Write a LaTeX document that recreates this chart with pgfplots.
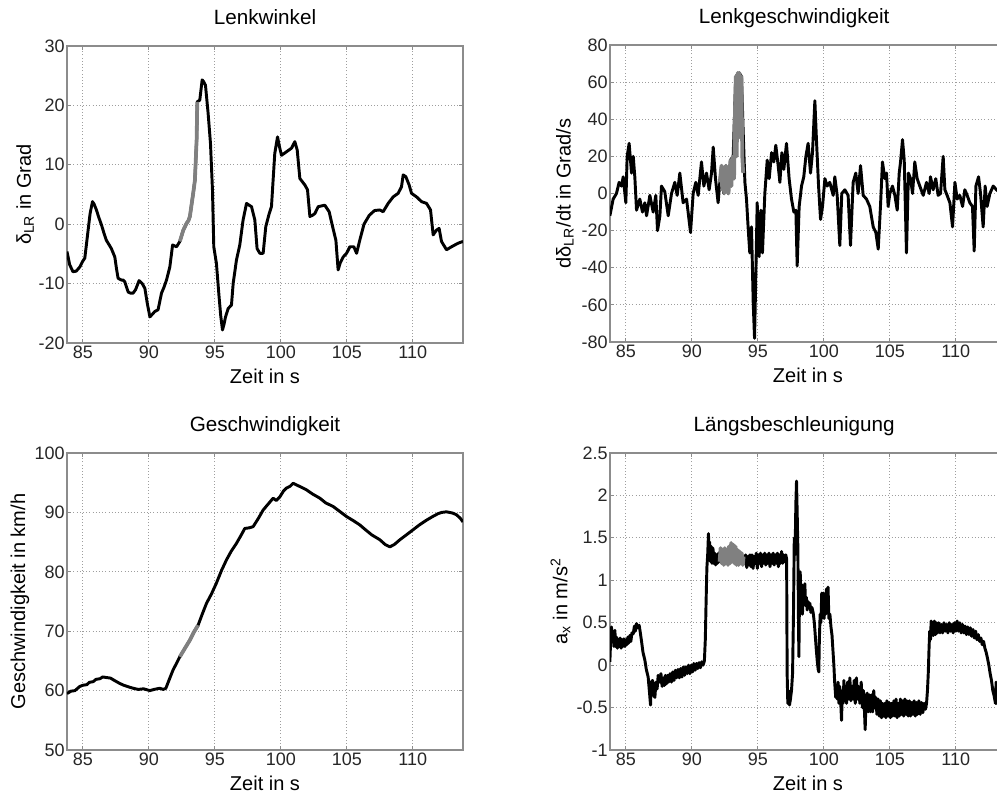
\documentclass[border=0pt]{standalone}
\usepackage{fontspec}
\setmainfont{Liberation Sans}
\usepackage{pgfplots}
\pgfplotsset{compat=1.18}
\definecolor{hl}{gray}{0.5}
\definecolor{framec}{gray}{0.55}
\definecolor{gridc}{gray}{0.62}
\pgfplotsset{
 blk/.style={black, line width=2.2pt, line join=round, no markers},
 gry/.style={hl, line width=2.8pt, line join=round, no markers},
 mystyle/.style={
  scale only axis, width=297pt, height=222.75pt, anchor=south west,
  xmin=83.8, xmax=113.8, xtick={85,90,...,110},
  grid=major, grid style={dotted, gridc, line width=0.6pt},
  axis line style={framec, line width=0.8pt},
  tick style={framec, line width=0.6pt}, tick align=inside, major tick length=3pt,
  /pgf/number format/assume math mode=true,
  tick label style={font=\fontsize{13.5}{15}\selectfont, text=black!85},
  yticklabel style={inner sep=1.5pt},
  xticklabel style={inner sep=2pt},
  label style={font=\fontsize{15}{17}\selectfont},
  every axis title shift=0pt,
  title style={font=\fontsize{15.5}{18}\selectfont, at={(axis description cs:0.5,1.074)}, anchor=base},
  xlabel style={at={(axis description cs:0.5,-0.111)}, anchor=center},
  xlabel={Zeit in s},
 }
}
\begin{document}
\begin{tikzpicture}
\useasboundingbox (0,0) rectangle (747.75pt,-599.25pt);
\clip (0,0) rectangle (747.75pt,-599.25pt);
% ---------------- Lenkwinkel
\begin{axis}[mystyle, at={(50.25pt,-257.25pt)},
  ymin=-20, ymax=30, ytick={-20,-10,...,30},
  title={Lenkwinkel},
  ylabel={δ\textsubscript{LR} in Grad},
  ylabel style={at={(axis description cs:-0.106,0.5)}, anchor=center}]
\addplot[blk] coordinates {
(83.8,-4.6) (84.0,-6.8) (84.25,-8.0) (84.5,-7.9) (84.77,-7.2) (85.0,-6.2) (85.15,-5.7) (85.4,-1.0) (85.55,1.8) (85.73,3.8) (85.85,3.4) (86.03,2.4) (86.2,1.2) (86.41,-0.1) (86.6,-1.5) (86.78,-2.7) (87.0,-3.5) (87.16,-4.1) (87.42,-5.5) (87.55,-7.5) (87.67,-9.1) (87.92,-9.4) (88.05,-9.4) (88.18,-9.7) (88.43,-11.4) (88.6,-11.6) (88.81,-11.6) (89.0,-11.0) (89.26,-9.5) (89.5,-10.0) (89.70,-10.8) (89.88,-13.3) (90.08,-15.6) (90.25,-15.2) (90.45,-14.7) (90.70,-14.4) (90.96,-11.6) (91.15,-10.6) (91.34,-9.4) (91.59,-7.2) (91.80,-3.5) (92.10,-3.8) (92.35,-2.9) (92.61,-1.0) (92.86,0.15) (93.0,0.6) (93.11,1.3) (93.25,3.5) (93.36,5.2) (93.49,7.4) (93.62,14.2) (93.67,20.6) (93.86,20.9) (94.04,24.3) (94.15,24.0) (94.29,23.4) (94.49,18.7) (94.67,13.6) (94.82,5.8) (94.92,-3.8) (95.12,-6.6) (95.32,-12.2) (95.45,-15.5) (95.58,-17.8) (95.7,-16.8) (95.81,-15.6) (96.01,-14.2) (96.26,-13.6) (96.39,-9.95) (96.64,-6.0) (96.89,-3.5) (97.14,0.7) (97.40,3.5) (97.6,3.2) (97.78,2.95) (98.03,0.7) (98.20,-4.1) (98.41,-4.9) (98.66,-4.9) (98.86,-0.4) (99.12,1.8) (99.29,2.95) (99.54,11.9) (99.75,14.7) (99.9,13.0) (100.05,11.6) (100.43,12.2) (100.81,12.8) (101.06,13.9) (101.24,12.5) (101.44,7.7) (101.82,6.6) (102.02,5.8) (102.20,1.3) (102.4,1.5) (102.58,1.8) (102.83,2.95) (103.33,3.2) (103.66,2.1) (103.92,-0.4) (104.17,-2.7) (104.34,-7.7) (104.5,-6.5) (104.73,-5.5) (104.98,-4.9) (105.23,-3.8) (105.53,-3.8) (105.74,-4.9) (105.98,-2.7) (106.3,0.0) (106.7,1.5) (107.1,2.3) (107.5,2.4) (107.75,2.1) (108.13,3.5) (108.51,4.6) (108.89,5.2) (109.14,6.3) (109.27,8.3) (109.47,8.0) (109.72,6.6) (109.90,5.2) (110.28,4.6) (110.66,3.8) (111.04,3.5) (111.34,2.4) (111.54,-1.8) (111.79,-1.0) (111.99,-0.7) (112.17,-2.9) (112.55,-4.3) (112.93,-3.8) (113.43,-3.2) (113.8,-2.9)
};
\addplot[gry] coordinates {
(92.35,-2.9) (92.61,-1.0) (92.86,0.15) (93.0,0.6) (93.11,1.3) (93.25,3.5) (93.36,5.2) (93.49,7.4) (93.62,14.2) (93.67,20.6)
};
\end{axis}
% ---------------- Lenkgeschwindigkeit
\begin{axis}[mystyle, at={(457.5pt,-256.5pt)},
  ymin=-80, ymax=80, ytick={-80,-60,...,80},
  title={Lenkgeschwindigkeit},
  title style={at={(axis description cs:0.465,1.074)}},
  ylabel={dδ\textsubscript{LR}/dt in Grad/s},
  ylabel style={at={(axis description cs:-0.114,0.5)}, anchor=center}]
\addplot[blk] coordinates {
(83.79,-12) (84.04,-3) (84.29,0) (84.49,6) (84.67,4) (84.8,9) (85.0,-5) (85.1,20) (85.25,27) (85.43,11) (85.56,20) (85.68,9) (85.81,-9) (86.06,-3) (86.26,-10) (86.44,-5) (86.57,-12) (86.82,-1) (87.07,-10) (87.27,-1) (87.40,-20) (87.58,-12) (87.70,4) (87.95,1) (88.21,-12) (88.46,0) (88.71,6) (88.89,-1) (89.09,11) (89.34,-5) (89.60,-3) (89.90,-21) (90.10,0) (90.30,6) (90.48,-1) (90.73,17) (90.91,4) (91.11,11) (91.31,2) (91.49,11) (91.62,25) (91.79,8) (91.99,-5) (92.12,6)
(92.25,15) (92.42,0) (92.58,15) (92.75,0) (92.93,18) (93.13,20) (93.33,63) (93.59,65) (93.76,63) (93.89,33)
(94.02,6) (94.14,-3) (94.27,-19) (94.39,-32) (94.52,-18) (94.65,-59) (94.75,-78) (94.85,-43) (94.95,-5) (95.10,-34) (95.23,-9) (95.35,-32) (95.53,0) (95.71,18) (95.86,8) (96.04,22) (96.21,17) (96.36,26) (96.54,15) (96.67,6) (96.82,22) (96.97,13) (97.17,27) (97.37,8) (97.55,-3) (97.73,-10) (97.88,-9) (97.98,-39) (98.13,-7) (98.31,4) (98.48,9) (98.64,20) (98.81,27) (98.99,11) (99.14,22) (99.32,50) (99.44,29) (99.60,4) (99.75,-14) (99.90,-7) (100.08,8) (100.25,4) (100.45,6) (100.71,-1) (100.83,9) (101.01,-1) (101.21,-28) (101.36,0) (101.59,2) (101.84,-1) (102.02,-28) (102.22,6) (102.42,11) (102.60,0) (102.78,15) (102.98,-1) (103.23,-3) (103.48,-7) (103.74,-18) (103.94,-21) (104.12,-30) (104.29,-7) (104.44,17) (104.62,8) (104.75,11) (104.87,-7) (105.0,0) (105.20,4) (105.38,-1) (105.56,-9) (105.71,11) (105.81,17) (105.96,29) (106.09,18) (106.26,-32) (106.41,11) (106.57,8) (106.72,0) (106.89,17) (107.07,8) (107.27,4) (107.53,-1) (107.78,6) (107.98,0) (108.08,9) (108.28,2) (108.48,8) (108.66,-1) (108.84,0) (109.04,20) (109.17,2) (109.34,-1) (109.55,-5) (109.75,-18) (109.93,6) (110.10,-3) (110.30,-1) (110.51,-7) (110.68,2) (110.86,-1) (111.06,-5) (111.26,-7) (111.39,-31) (111.52,4) (111.72,9) (111.87,0) (112.07,-18) (112.22,4) (112.37,-7) (112.58,0) (112.83,4) (113.08,2) (113.4,0) (113.8,3)
};
\addplot[gry] coordinates {
(92.12,6) (92.2,12) (92.25,15) (92.3,2) (92.38,14) (92.45,0) (92.52,13) (92.58,15) (92.65,1) (92.72,5) (92.78,0) (92.85,12) (92.93,18) (93.0,4) (93.07,19) (93.13,20) (93.2,8) (93.27,45) (93.33,63) (93.4,20) (93.47,65) (93.55,30) (93.6,65) (93.68,40) (93.76,63) (93.82,20) (93.89,11)
};
\end{axis}
% ---------------- Geschwindigkeit
\begin{axis}[mystyle, at={(50.25pt,-562.5pt)},
  ymin=50, ymax=100, ytick={50,60,...,100},
  title={Geschwindigkeit},
  ylabel={Geschwindigkeit in km/h},
  ylabel style={at={(axis description cs:-0.119,0.5)}, anchor=center}]
\addplot[blk] coordinates {
(83.8,59.5) (84.1,59.9) (84.4,60.0) (84.77,60.7) (85.0,60.9) (85.3,61.0) (85.5,61.4) (85.78,61.5) (86.0,61.9) (86.3,62.0) (86.5,62.3) (86.79,62.2) (87.1,62.1) (87.4,61.7) (87.8,61.2) (88.1,60.9) (88.5,60.6) (88.81,60.4) (89.2,60.2) (89.6,60.3) (90.08,60.0) (90.4,60.2) (90.83,60.4) (91.1,60.2) (91.29,60.4) (91.5,61.6) (91.84,63.5) (92.1,64.6) (92.35,65.7) (92.7,67.0) (93.11,68.5) (93.4,69.8) (93.73,71.0) (94.05,72.9) (94.37,74.7) (94.75,76.3) (95.12,78.1) (95.5,80.2) (95.88,82.0) (96.25,83.5) (96.64,84.8) (96.95,86.0) (97.27,87.3) (97.6,87.4) (97.90,87.6) (98.3,89.0) (98.66,90.4) (99.0,91.3) (99.42,92.4) (99.65,92.0) (99.92,92.6) (100.2,93.6) (100.43,94.1) (100.7,94.4) (100.93,94.9) (101.4,94.4) (101.94,93.8) (102.4,93.1) (102.95,92.4) (103.4,91.6) (103.96,91.0) (104.5,90.1) (104.98,89.3) (105.5,88.6) (105.98,87.9) (106.4,87.1) (106.9,86.2) (107.5,85.4) (107.9,84.6) (108.26,84.2) (108.6,84.6) (109.02,85.4) (109.5,86.2) (110.03,87.1) (110.5,87.9) (111.04,88.7) (111.5,89.3) (111.92,89.8) (112.2,90.0) (112.55,90.1) (113.0,89.9) (113.31,89.6) (113.6,89.0) (113.8,88.4)
};
\addplot[gry] coordinates {
(92.35,65.7) (92.7,67.0) (93.11,68.5) (93.4,69.8) (93.73,71.0)
};
\end{axis}
% ---------------- Laengsbeschleunigung
\begin{axis}[mystyle, at={(457.5pt,-562.5pt)},
  ymin=-1, ymax=2.5, ytick={-1,-0.5,...,2.5},
  title={Längsbeschleunigung},
  title style={at={(axis description cs:0.465,1.074)}},
  ylabel={a\textsubscript{x} in m/s\textsuperscript{2}},
  ylabel style={at={(axis description cs:-0.125,0.5)}, anchor=center}]
\addplot[blk] coordinates {
(83.79,0.04) (83.85,0.30) (83.91,0.45) (83.97,0.30) (84.04,0.40) (84.10,0.22) (84.17,0.41) (84.23,0.22) (84.30,0.33) (84.36,0.20) (84.43,0.30) (84.50,0.22) (84.57,0.32) (84.64,0.20) (84.71,0.30) (84.78,0.22) (84.85,0.31) (84.92,0.22) (85.0,0.30) (85.07,0.24) (85.15,0.33) (85.22,0.26) (85.30,0.35) (85.38,0.28) (85.46,0.38) (85.56,0.37) (85.65,0.46) (85.72,0.40) (85.81,0.49) (85.90,0.44) (86.01,0.47) (86.1,0.38) (86.19,0.28) (86.3,0.15) (86.44,0.06) (86.55,-0.05) (86.69,-0.14) (86.78,-0.3) (86.87,-0.47) (86.93,-0.2) (87.02,-0.18) (87.1,-0.35) (87.2,-0.38) (87.28,-0.2) (87.37,-0.28) (87.45,-0.12) (87.58,-0.2) (87.66,-0.1) (87.75,-0.25) (87.83,-0.15) (87.92,-0.24) (88.0,-0.12) (88.08,-0.22) (88.17,-0.12) (88.25,-0.2) (88.35,-0.1) (88.46,-0.2) (88.55,-0.08) (88.65,-0.18) (88.75,-0.06) (88.84,-0.15) (88.95,-0.05) (89.05,-0.15) (89.15,-0.04) (89.25,-0.14) (89.35,-0.02) (89.45,-0.12) (89.55,-0.02) (89.65,-0.1) (89.75,0.0) (89.85,-0.1) (89.95,0.0) (90.05,-0.08) (90.15,0.02) (90.25,-0.06) (90.35,0.02) (90.45,-0.04) (90.55,0.03) (90.65,-0.03) (90.75,0.04) (90.85,0.0) (90.95,0.05) (91.02,0.3) (91.08,0.75) (91.14,1.15) (91.2,1.3) (91.26,1.55) (91.3,1.25) (91.35,1.45) (91.41,1.22) (91.47,1.4) (91.53,1.2) (91.6,1.38) (91.66,1.2) (91.74,1.32) (91.8,1.18) (91.88,1.3) (91.95,1.2) (92.02,1.32) (92.1,1.22)
(92.5,1.3) (93.0,1.3) (93.5,1.3) (93.92,1.28)
(94.0,1.2) (94.08,1.3) (94.16,1.15) (94.24,1.28) (94.32,1.18) (94.4,1.3) (94.48,1.16) (94.56,1.3) (94.64,1.14) (94.72,1.28) (94.8,1.2) (94.88,1.32) (94.96,1.14) (95.04,1.3) (95.12,1.2) (95.2,1.32) (95.28,1.16) (95.36,1.3) (95.44,1.2) (95.52,1.32) (95.6,1.18) (95.68,1.3) (95.76,1.2) (95.84,1.32) (95.92,1.16) (96.0,1.3) (96.08,1.2) (96.16,1.32) (96.24,1.18) (96.32,1.3) (96.4,1.2) (96.48,1.32) (96.56,1.16) (96.64,1.3) (96.72,1.2) (96.8,1.34) (96.88,1.2) (96.96,1.3) (97.04,1.22) (97.12,1.3) (97.18,1.25) (97.22,-0.1) (97.27,-0.45) (97.33,-0.3) (97.4,-0.47) (97.47,-0.4) (97.55,-0.3) (97.63,-0.1) (97.7,0.6) (97.76,1.5) (97.82,1.3) (97.88,1.9) (97.93,2.17) (97.98,1.8) (98.03,1.4) (98.08,0.5) (98.11,0.1) (98.16,0.9) (98.21,1.1) (98.26,0.8) (98.32,0.95) (98.38,0.6) (98.44,0.9) (98.5,0.75) (98.56,0.96) (98.62,0.7) (98.68,0.8) (98.74,0.65) (98.8,0.75) (98.86,0.68) (98.94,0.73) (99.02,0.62) (99.1,0.68) (99.19,0.62) (99.28,0.5) (99.35,0.35) (99.42,0.2) (99.5,0.05) (99.57,-0.05) (99.62,-0.08) (99.66,0.3) (99.72,0.6) (99.78,0.5) (99.84,0.85) (99.9,0.6) (99.96,0.85) (100.02,0.55) (100.08,0.78) (100.14,0.6) (100.2,0.9) (100.26,0.7) (100.32,0.92) (100.38,0.55) (100.46,0.6) (100.54,0.45) (100.62,0.35) (100.7,0.15) (100.76,0.0) (100.82,-0.2) (100.9,-0.38) (100.96,-0.3) (101.02,-0.4) (101.08,-0.2) (101.14,-0.45) (101.2,-0.25) (101.27,-0.4) (101.34,-0.65) (101.4,-0.3) (101.46,-0.45) (101.52,-0.18) (101.58,-0.4) (101.64,-0.25) (101.72,-0.45) (101.8,-0.2) (101.88,-0.4) (101.97,-0.15) (102.05,-0.42) (102.13,-0.25) (102.22,-0.4) (102.3,-0.18) (102.38,-0.45) (102.47,-0.15) (102.55,-0.4) (102.63,-0.25) (102.73,-0.45) (102.83,-0.2) (102.93,-0.5) (103.0,-0.3) (103.08,-0.55) (103.13,-0.76) (103.2,-0.4) (103.28,-0.33) (103.36,-0.55) (103.45,-0.35) (103.54,-0.55) (103.62,-0.35) (103.7,-0.55) (103.78,-0.3) (103.86,-0.5) (103.94,-0.38) (104.02,-0.58) (104.12,-0.4) (104.2,-0.6) (104.28,-0.42) (104.37,-0.62) (104.45,-0.45) (104.54,-0.6) (104.62,-0.45) (104.7,-0.62) (104.78,-0.42) (104.87,-0.6) (104.95,-0.44) (105.04,-0.62) (105.13,-0.45) (105.22,-0.6) (105.3,-0.42) (105.38,-0.6) (105.47,-0.4) (105.55,-0.62) (105.63,-0.45) (105.72,-0.6) (105.8,-0.4) (105.88,-0.58) (105.97,-0.42) (106.05,-0.6) (106.14,-0.4) (106.22,-0.58) (106.3,-0.42) (106.39,-0.6) (106.48,-0.42) (106.57,-0.6) (106.66,-0.44) (106.75,-0.58) (106.84,-0.42) (106.93,-0.6) (107.02,-0.44) (107.1,-0.58) (107.2,-0.42) (107.3,-0.58) (107.4,-0.44) (107.5,-0.56) (107.6,-0.45) (107.7,-0.52) (107.78,-0.45) (107.85,-0.3) (107.91,-0.1) (107.97,0.2) (108.02,0.4) (108.08,0.3) (108.13,0.52) (108.18,0.35) (108.23,0.5) (108.3,0.35) (108.38,0.52) (108.46,0.36) (108.54,0.5) (108.62,0.38) (108.7,0.5) (108.8,0.38) (108.9,0.48) (109.0,0.38) (109.1,0.5) (109.2,0.4) (109.3,0.48) (109.4,0.38) (109.5,0.5) (109.6,0.4) (109.7,0.48) (109.8,0.38) (109.9,0.5) (110.0,0.4) (110.1,0.52) (110.2,0.4) (110.3,0.5) (110.4,0.38) (110.5,0.48) (110.6,0.38) (110.7,0.46) (110.8,0.36) (110.9,0.45) (111.0,0.36) (111.1,0.44) (111.2,0.34) (111.3,0.42) (111.4,0.32) (111.5,0.4) (111.6,0.3) (111.7,0.36) (111.8,0.28) (111.9,0.32) (112.0,0.24) (112.1,0.28) (112.2,0.2) (112.3,0.15) (112.4,0.08) (112.5,0.0) (112.6,-0.1) (112.7,-0.18) (112.8,-0.3) (112.9,-0.36) (113.0,-0.45) (113.05,-0.2) (113.1,-0.45) (113.2,-0.3) (113.3,-0.5) (113.5,-0.4) (113.8,-0.5)
};
\addplot[gry] coordinates {
(92.1,1.22) (92.18,1.38) (92.26,1.2) (92.34,1.36) (92.42,1.18) (92.5,1.38) (92.58,1.2) (92.66,1.36) (92.74,1.18) (92.82,1.4) (92.9,1.2) (92.98,1.44) (93.06,1.22) (93.14,1.42) (93.22,1.2) (93.3,1.4) (93.38,1.18) (93.46,1.36) (93.54,1.18) (93.62,1.34) (93.7,1.2) (93.78,1.32) (93.86,1.18) (93.92,1.28)
};
\end{axis}
\end{tikzpicture}
\end{document}
